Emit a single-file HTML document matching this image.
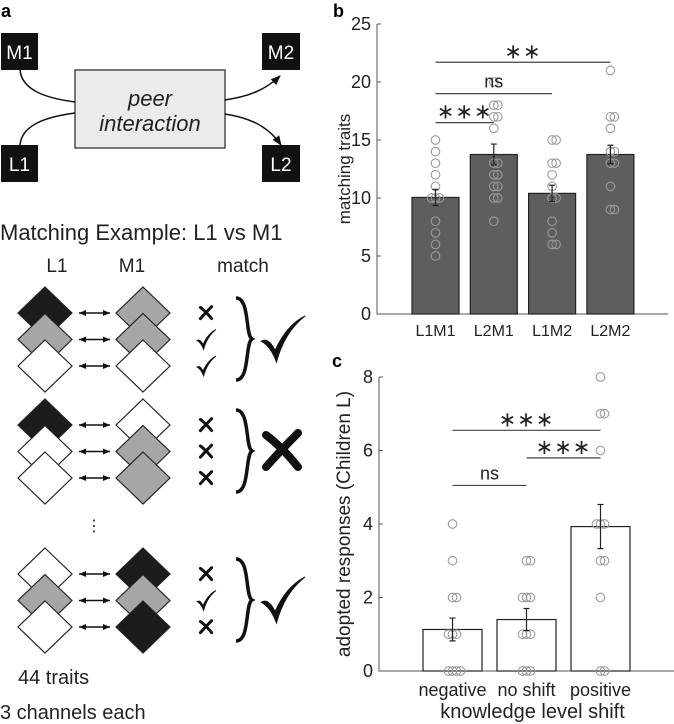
<!DOCTYPE html>
<html><head><meta charset="utf-8"><style>
body{margin:0;background:#fff}
svg{display:block;font-family:"Liberation Sans",sans-serif}
</style></head><body>
<svg id="fig" width="674" height="724" viewBox="0 0 674 724" xmlns="http://www.w3.org/2000/svg">
<defs><marker id="ah" markerWidth="10" markerHeight="8" refX="9" refY="4" orient="auto" markerUnits="userSpaceOnUse"><path d="M0,0 L10,4 L0,8 z" fill="#111"/></marker>
<marker id="sa" markerWidth="7" markerHeight="6" refX="7" refY="3" orient="auto" markerUnits="userSpaceOnUse"><path d="M0,0 L7,3 L0,6 z" fill="#111"/></marker>
<marker id="sb" markerWidth="7" markerHeight="6" refX="0" refY="3" orient="auto" markerUnits="userSpaceOnUse"><path d="M7,0 L0,3 L7,6 z" fill="#111"/></marker></defs>

<g>
<text x="1" y="17" font-size="18" font-weight="bold">a</text>
<g><rect x="1" y="33" width="37" height="37" fill="#111"/><text x="19.5" y="59" fill="#fff" font-size="19" text-anchor="middle">M1</text></g>
<g><rect x="262" y="33" width="38" height="37" fill="#111"/><text x="281" y="59" fill="#fff" font-size="19" text-anchor="middle">M2</text></g>
<g><rect x="1" y="145" width="37" height="37" fill="#111"/><text x="19.5" y="171" fill="#fff" font-size="19" text-anchor="middle">L1</text></g>
<g><rect x="262" y="145" width="38" height="37" fill="#111"/><text x="281" y="171" fill="#fff" font-size="19" text-anchor="middle">L2</text></g>
<rect x="75" y="70" width="150" height="78" fill="#ebebeb" stroke="#333" stroke-width="1.3"/>
<text x="150" y="106" font-size="22" font-style="italic" text-anchor="middle" fill="#222">peer</text>
<text x="150" y="131" font-size="22" font-style="italic" text-anchor="middle" fill="#222">interaction</text>
<path d="M20,70 C22,90 45,98 75,102" fill="none" stroke="#111" stroke-width="1.5"/>
<path d="M20,145 C22,125 45,117 75,113" fill="none" stroke="#111" stroke-width="1.5"/>
<path d="M225,100 C250,96 265,90 280,76" fill="none" stroke="#111" stroke-width="1.5" marker-end="url(#ah)"/>
<path d="M225,114 C250,118 268,126 281,145" fill="none" stroke="#111" stroke-width="1.5" marker-end="url(#ah)"/>
<text x="0" y="240" font-size="22" fill="#222">Matching Example: L1 vs M1</text>
<text x="57" y="272" font-size="19" text-anchor="middle" fill="#222">L1</text>
<text x="132" y="272" font-size="19" text-anchor="middle" fill="#222">M1</text>
<text x="243" y="272" font-size="19" text-anchor="middle" fill="#222">match</text>
<g id="diamonds"></g>
<text x="94" y="531" font-size="16" text-anchor="middle" fill="#222">⋮</text>
<text x="18" y="684" font-size="20" fill="#222">44 traits</text>
<text x="0" y="719" font-size="20" fill="#222">3 channels each</text>
</g>

<g id="pb">
<text x="333" y="17" font-size="18" font-weight="bold">b</text>
</g>
<g id="pc">
<text x="332" y="367" font-size="18" font-weight="bold">c</text>
</g>
</svg>
<script>
var NS="http://www.w3.org/2000/svg";
function mk(p,t,a){var e=document.createElementNS(NS,t);for(var k in a)e.setAttribute(k,a[k]);p.appendChild(e);return e;}
// panel a diamonds
var groupY=[313,425,574];
var leftCols=[["#1c1c1c","#a6a6a6","#fff"],["#1c1c1c","#fff","#fff"],["#fff","#a6a6a6","#fff"]];
var rightCols=[["#a6a6a6","#a6a6a6","#fff"],["#fff","#a6a6a6","#a6a6a6"],["#1c1c1c","#a6a6a6","#1c1c1c"]];
var marks=[["x","v","v"],["x","x","x"],["x","v","x"]];
var bigMarks=["v","x","v"];
function drawMark(p,kind,cx,cy,s){
  if(kind=="v"){
    mk(p,'path',{d:'M'+(cx-0.45*s)+','+(cy+0.05*s)+' Q'+(cx-0.3*s)+','+(cy-0.05*s)+' '+(cx-0.15*s)+','+(cy+0.25*s)+' Q'+(cx+0.1*s)+','+(cy-0.3*s)+' '+(cx+0.5*s)+','+(cy-0.5*s)+' Q'+(cx+0.05*s)+','+(cy-0.15*s)+' '+(cx-0.12*s)+','+(cy+0.5*s)+' Q'+(cx-0.25*s)+','+(cy+0.15*s)+' '+(cx-0.45*s)+','+(cy+0.05*s)+' Z',fill:'#111',stroke:'#111','stroke-width':s>30?1:0.8});
  } else {
    mk(p,'path',{d:'M'+(cx-0.4*s)+','+(cy-0.4*s)+' Q'+cx+','+(cy-0.1*s)+' '+(cx+0.4*s)+','+(cy+0.4*s)+' M'+(cx+0.4*s)+','+(cy-0.45*s)+' Q'+cx+','+(cy-0.05*s)+' '+(cx-0.4*s)+','+(cy+0.4*s),fill:'none',stroke:'#111','stroke-width':Math.max(3,s*0.2),'stroke-linecap':'round'});
  }
}
var dg=document.getElementById('diamonds');
groupY.forEach(function(gy,g){
  var grp=mk(dg,'g',{});
  
  
  for(var i=0;i<3;i++){
    var cy=gy+i*26.5;
    [[45,leftCols[g][i]],[143,rightCols[g][i]]].forEach(function(d){
      mk(grp,'path',{d:'M'+d[0]+','+(cy-26)+' L'+(d[0]+27)+','+cy+' L'+d[0]+','+(cy+26)+' L'+(d[0]-27)+','+cy+' Z',fill:d[1],stroke:'#222','stroke-width':1.2});
    });
    mk(grp,'line',{x1:79,y1:cy,x2:110,y2:cy,stroke:'#111','stroke-width':1.5,'marker-start':'url(#sb)','marker-end':'url(#sa)'});
    drawMark(grp,marks[g][i],206,cy,marks[g][i]=="v"?20:14);
  }
  mk(grp,'path',{d:'M236,'+(gy-15)+' C250,'+(gy-15)+' 245,'+(gy+22)+' 252,'+(gy+26)+' C245,'+(gy+30)+' 250,'+(gy+67)+' 236,'+(gy+67),fill:'none',stroke:'#111','stroke-width':3.5});
  drawMark(grp,bigMarks[g],282,gy+26,bigMarks[g]=="v"?46:40);
});

// panel b data
var bCats=["L1M1","L2M1","L1M2","L2M2"];
var bMeans=[10.05,13.75,10.4,13.75];
var bErr=[0.7,0.9,0.7,0.8];
var bPts=[[15,14,13,12,11,10,10,10,8,7,6,5],[20,18,18,17,17,16,13,13,12,12,11,11,10,10,8],[15,15,13,13,12,11,10,10,8,7,6,6],[21,17,17,16,14,14,13,13,11,9,9]];
var bTicks=[0,5,10,15,20,25];
var bSig=[[0,1,16.5,"***"],[0,2,19,"ns"],[0,3,21.7,"**"]];
// panel c data
var cCats=["negative","no shift","positive"];
var cMeans=[1.13,1.4,3.93];
var cErr=[0.31,0.3,0.6];
var cPts=[[4,3,2,2,1,1,1,0,0,0,0],[3,3,2,2,2,1,1,1,0,0,0],[8,7,7,6,4,4,4,3,3,2,0,0]];
var cTicks=[0,2,4,6,8];
var cSig=[[0,1,5.05,"ns"],[1,2,5.8,"***"],[0,2,6.55,"***"]];

function chart(gid,o){
  var g=document.getElementById(gid);
  function Y(v){return o.y0-(v-o.vmin)*(o.y0-o.y1)/(o.vmax-o.vmin);}
  function X(i){return o.xc0+i*o.dx;}
  var ax=mk(g,'path',{d:'M'+o.ax+','+o.y1+' L'+o.ax+','+o.y0+' L'+o.axEnd+','+o.y0,fill:'none',stroke:'#555','stroke-width':1});
  
  
  o.ticks.forEach(function(t){
    mk(g,'line',{x1:o.ax,y1:Y(t),x2:o.ax+4,y2:Y(t),stroke:'#555'});
    var tx=mk(g,'text',{x:o.ax-6,y:Y(t)+6,'font-size':18,'text-anchor':'end',fill:'#222'});tx.textContent=t;
    
    
  });
  o.cats.forEach(function(c,i){
    var r=mk(g,'rect',{x:X(i)-o.bw/2,y:Y(o.means[i]),width:o.bw,height:Y(o.vmin)-Y(o.means[i]),fill:o.fill,stroke:'#222','stroke-width':1.2});
    
    
    var seen={};
    o.pts[i].forEach(function(v){
      var n=seen[v]||0;seen[v]=n+1;
      var off=(n%2?1:-1)*Math.ceil(n/2)*4;
      var ci=mk(g,'circle',{cx:X(i)+off,cy:Y(v),r:4.3,fill:'none',stroke:'#9a9a9a','stroke-width':1.1});
      
      
    });
    var lo=Y(o.means[i]-o.err[i]),hi=Y(o.means[i]+o.err[i]);
    var eb=mk(g,'path',{d:'M'+X(i)+','+lo+' L'+X(i)+','+hi+' M'+(X(i)-3)+','+lo+' L'+(X(i)+3)+','+lo+' M'+(X(i)-3)+','+hi+' L'+(X(i)+3)+','+hi,stroke:'#222','stroke-width':1.2,fill:'none'});
    
    
    var lt=mk(g,'text',{x:X(i),y:o.y0+o.lblDy,'font-size':o.lblFs,'text-anchor':'middle',fill:'#222'});lt.textContent=c;
    
    
  });
  o.sig.forEach(function(s){
    var ln=mk(g,'line',{x1:X(s[0]),y1:Y(s[2]),x2:X(s[1]),y2:Y(s[2]),stroke:'#444','stroke-width':1.2});
    
    
    var isNs=s[3]=="ns";
    var st=mk(g,'text',{x:(X(s[0])+X(s[1]))/2,y:Y(s[2])-(isNs?6:4),'font-size':isNs?18:21,'text-anchor':'middle',fill:'#222','letter-spacing':isNs?0:1});st.textContent=isNs?"ns":s[3].replace(/\*/g,"∗");
    
    
  });
  var yl=mk(g,'text',{x:0,y:0,'font-size':o.ylFs,'text-anchor':'middle',fill:'#222',transform:'translate('+o.ylx+','+((o.y0+o.y1)/2)+') rotate(-90)'});yl.textContent=o.ylab;
  
  
  if(o.xlab){var xl=mk(g,'text',{x:(o.ax+o.axEnd)/2+6,y:o.y0+47,'font-size':20,'text-anchor':'middle',fill:'#222'});xl.textContent=o.xlab;
    
    }
}
chart('pb',{y0:314,y1:24,vmin:0,vmax:25,ax:377,axEnd:668,xc0:435.5,dx:58.3,bw:47,fill:'#5e5e5e',cats:bCats,means:bMeans,err:bErr,pts:bPts,ticks:bTicks,sig:bSig,ylab:'matching traits',ylx:350,ylFs:17,lblDy:22,lblFs:16});
chart('pc',{y0:671,y1:377,vmin:0,vmax:8,ax:379,axEnd:674,xc0:452.5,dx:74,bw:59,fill:'#fff',cats:cCats,means:cMeans,err:cErr,pts:cPts,ticks:cTicks,sig:cSig,ylab:'adopted responses (Children L)',ylx:350,ylFs:19,lblDy:25,lblFs:18,xlab:'knowledge level shift'});
</script>
</body></html>
